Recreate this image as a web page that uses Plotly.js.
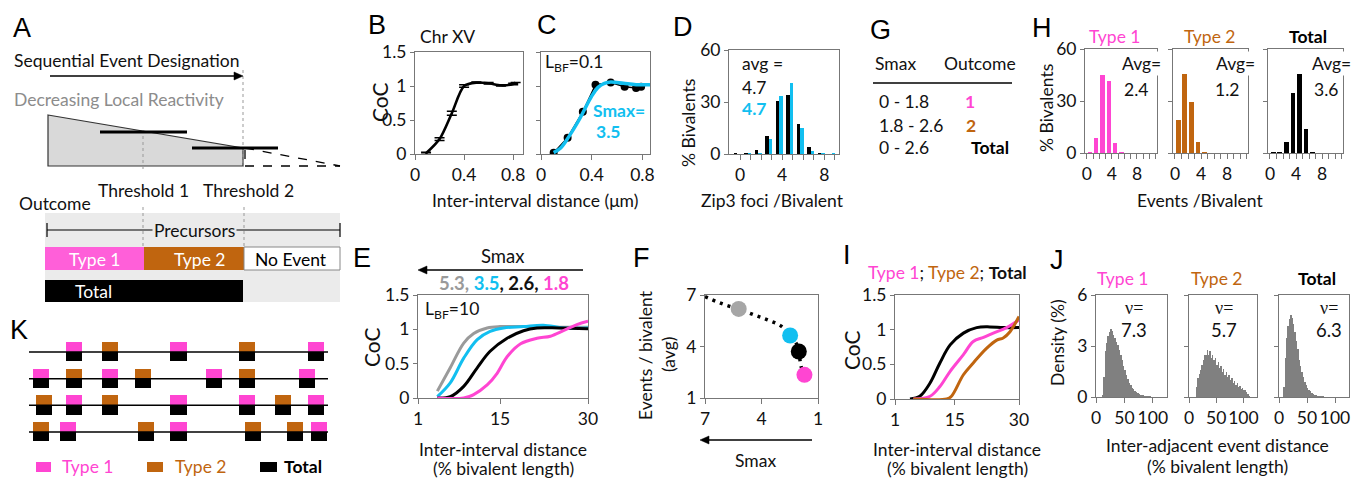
<!DOCTYPE html>
<html><head><meta charset="utf-8">
<script src="https://cdn.plot.ly/plotly-3.0.1.min.js"></script>
<style>html,body{margin:0;padding:0;background:#fff}#chart{width:1366px;height:478px}</style>
</head><body><div id="chart"></div><script>
// ---------- DATA ----------
// B: CoC, Chr XV
const B_X = [0.09, 0.2, 0.3, 0.4, 0.5, 0.6, 0.7, 0.8, 0.82];
const B_Y = [0.01, 0.22, 0.6, 1.0, 1.05, 1.04, 1.01, 1.03, 1.05];
const B_ERR = [0.015, 0.02, 0.03, 0.02, 0.01, 0.01, 0.01, 0.01, 0];
// C: data points and fitted curve (Smax = 3.5)
const C_X = [0.1, 0.21, 0.33, 0.43, 0.55, 0.66, 0.75, 0.79];
const C_Y = [0.02, 0.24, 0.62, 1.02, 1.05, 0.99, 0.97, 0.99];
const C_FIT_X = [0.1, 0.15, 0.2, 0.3, 0.4, 0.45, 0.5, 0.55, 0.65, 0.75, 0.86];
const C_FIT_Y = [0.02, 0.08, 0.2, 0.5, 0.85, 0.98, 1.04, 1.06, 1.04, 1.02, 1.02];
// D: Zip3 foci / bivalent
const D_N = [0, 1, 2, 3, 4, 5, 6, 7, 8, 9];
const D_OBS = [0.3, 0.3, 2.3, 10.4, 30.8, 34.0, 17.1, 4.2, 0.3, 0.2];
const D_SIM = [0.2, 0.4, 0.8, 8.5, 33.5, 41.0, 15.2, 1.7, 0.3, 0.4];
// H: events / bivalent
const H_N = [0, 1, 2, 3, 4, 5, 6, 7];
const H_TYPE1 = [0.5, 8.9, 44.8, 41.4, 5.7, 0.4, 0, 0];
const H_TYPE2 = [19.1, 45.8, 29.4, 6.3, 0.3, 0, 0, 0];
const H_TOTAL = [0.3, 0.5, 6.3, 34.9, 45.8, 13.8, 0.8, 0];
// E: CoC curves for different Smax
const E_GRAY_X = [4.3, 6.5, 8.8, 10.5, 12.8, 15, 20, 25, 30];
const E_GRAY_Y = [0.1, 0.44, 0.8, 0.94, 1.02, 1.04, 1.04, 1.03, 1.03];
const E_CYAN_X = [4.3, 6.5, 8.8, 11.1, 13.3, 15.6, 19, 22.4, 25.8, 30];
const E_CYAN_Y = [0.02, 0.22, 0.58, 0.85, 0.97, 1.02, 1.04, 1.06, 1.02, 1.02];
const E_BLACK_X = [4.3, 6.5, 8.8, 11.1, 13.3, 16.2, 19, 21.3, 25, 30];
const E_BLACK_Y = [0, 0.02, 0.17, 0.44, 0.68, 0.87, 0.98, 1.02, 1.02, 1.01];
const E_PINK_X = [4.3, 8.8, 10.5, 12.8, 14.5, 16.2, 18.5, 21.3, 23.6, 25.8, 28.1, 30];
const E_PINK_Y = [0, 0, 0.05, 0.19, 0.36, 0.6, 0.79, 0.87, 0.9, 0.98, 1.07, 1.12];
// F: events per bivalent vs Smax
const F_LINE_X = [7, 5.92, 5.21, 4.4, 3.68, 2.97, 2.48, 2.16, 2.02, 1.9, 1.72];
const F_LINE_Y = [6.9, 6.42, 6.19, 5.84, 5.55, 5.2, 4.64, 4.19, 3.71, 2.84, 2.35];
const F_PTS_X = [5.21, 2.48, 2.02, 1.72];
const F_PTS_Y = [6.19, 4.64, 3.71, 2.35];
// I: CoC for Type 1 / Type 2 / Total
const I_BLACK_X = [4.5, 6.8, 9.2, 11.5, 13.9, 17.0, 20.1, 23.2, 26.3, 30];
const I_BLACK_Y = [0, 0.04, 0.23, 0.52, 0.78, 0.95, 1.03, 1.04, 1.03, 1.03];
const I_PINK_X = [5.3, 9.2, 11.5, 13.9, 17.0, 19.3, 21.7, 24, 27.1, 30];
const I_PINK_Y = [0, 0.04, 0.18, 0.40, 0.64, 0.83, 0.89, 0.95, 1.03, 1.14];
const I_BROWN_X = [5.3, 13.1, 14.2, 17, 19.3, 22.4, 24.8, 26.3, 27.9, 30];
const I_BROWN_Y = [0, 0, 0.04, 0.35, 0.52, 0.73, 0.85, 0.88, 0.97, 1.19];
// J: inter-adjacent event distance densities, bins of 2.5 starting at 0
const J_BIN = 2.5;
const J_TYPE1 = [0,0,0,0,0.1,1.2,2.7,3.2,3.6,3.85,4.0,3.9,3.65,3.5,3.25,3.05,2.75,2.5,2.15,1.85,1.6,1.3,1.05,0.85,0.7,0.55,0.48,0.38,0.3,0.24,0.17,0.14,0.11,0.1,0.07,0.06,0.05,0.04,0.03,0.02,0.01];
const J_TYPE2 = [0,0,0,0,0,0.6,1.1,1.35,1.6,1.9,2.15,2.5,2.45,2.75,2.5,2.7,2.3,2.5,2.15,2.3,1.9,2.05,1.7,1.85,1.5,1.65,1.3,1.45,1.15,1.3,1.0,1.1,0.85,0.95,0.7,0.8,0.6,0.65,0.5,0.55,0.4,0.4,0.3,0.15,0.05];
const J_TOTAL = [0,0,0,0.6,2.3,3.5,4.2,4.6,4.8,4.65,4.3,3.85,3.3,2.8,2.2,1.8,1.45,1.15,0.9,0.72,0.55,0.42,0.33,0.25,0.2,0.14,0.1,0.08,0.06,0.05,0.04,0.03,0.02];
// K: event positions (% of bivalent length), row and type
const K_ROW  = [1,1,1,1,1, 2,2,2,2,2,2,2, 3,3,3,3,3,3,3, 4,4,4,4,4,4,4];
const K_POS  = [15,27,50,73,96, 4,15,27,38,62,73,93, 5,15,27,50,73,85,96, 4,13,39,50,75,89,97];
const K_TYPE = [1,2,1,2,1, 1,2,1,2,1,2,1, 2,1,2,1,1,2,1, 2,1,2,1,2,2,1];
const K_ROWS = [1, 2, 3, 4];
// G table
const G_SMAX = ['0 - 1.8', '1.8 - 2.6', '0 - 2.6'];
const G_OUTCOME = ['1', '2', 'Total'];
// tick values
const H_TICKVALS = [0,1,2,3,4,5,6,7,8,9,10,11];
const D_TICKVALS = [0,1,2,3,4,5,6,7,8,9];

// ---------- STYLE ----------
const W = 1366, H = 478;
const FX = x => x / W, FY = y => 1 - y / H;
const FONT = 'Lato, "Open Sans", sans-serif';
const LET = '"Liberation Sans", Arial, sans-serif';
const FS = 17.5;
const PINK = '#ff45d2', BROWN = '#c0650f', CYAN = '#12bff0', GRAY = '#9a9a9a', HGRAY = '#808080';
const LC = '#777';

function xa(x0, x1, o) {
  return Object.assign({domain: [x0 / W, x1 / W], showline: true, linecolor: LC, linewidth: 1, mirror: true,
    ticks: 'outside', ticklen: 5, tickcolor: LC, tickangle: 0, tickfont: {family: FONT, size: FS, color: '#111'},
    zeroline: false, showgrid: false, fixedrange: true}, o);
}
function ya(y0, y1, o) {
  return Object.assign({domain: [1 - y1 / H, 1 - y0 / H], showline: true, linecolor: LC, linewidth: 1, mirror: true,
    ticks: 'outside', ticklen: 4, tickcolor: LC, tickangle: 0, tickfont: {family: FONT, size: FS, color: '#111'},
    zeroline: false, showgrid: false, fixedrange: true}, o);
}
function T(text, x, y, o) {
  o = o || {};
  const a = {text: text, x: FX(x), y: FY(y), xref: 'paper', yref: 'paper', showarrow: false,
    xanchor: o.xa || 'center', yanchor: 'middle',
    font: {family: o.family || FONT, size: o.size || FS, color: o.color || '#111'}, textangle: o.angle || 0};
  if (o.bg) { a.bgcolor = o.bg; a.borderpad = 1; }
  return a;
}
function L(x0, y0, x1, y1, o) {
  o = o || {};
  return {type: 'line', xref: 'paper', yref: 'paper', x0: FX(x0), y0: FY(y0), x1: FX(x1), y1: FY(y1),
    line: {color: o.color || '#000', width: o.width || 1, dash: o.dash || 'solid'}};
}
function R(x0, y0, x1, y1, fill, o) {
  o = o || {};
  return {type: 'rect', xref: 'paper', yref: 'paper', x0: FX(x0), y0: FY(y0), x1: FX(x1), y1: FY(y1),
    fillcolor: fill, line: {color: o.line || 'rgba(0,0,0,0)', width: o.lw || 0}, layer: o.layer || 'below'};
}
// horizontal arrow: shaft + filled triangular head at (xh, y); dir = +1 points right, -1 left
function ARROW(xt, xh, y, dir) {
  const hl = 9, hw = 4;
  const xb = xh - dir * hl;
  return [
    L(xt, y, xb, y, {width: 1.5}),
    {type: 'path', xref: 'paper', yref: 'paper', fillcolor: '#000', line: {color: '#000', width: 0.5},
     path: 'M ' + FX(xh) + ',' + FY(y) + ' L ' + FX(xb) + ',' + FY(y - hw) + ' L ' + FX(xb) + ',' + FY(y + hw) + ' Z'}
  ];
}
const bold = s => '<b>' + s + '</b>';

// ---------- TRACES ----------
const traces = [];
// B
traces.push({x: B_X, y: B_Y, type: 'scatter', mode: 'lines', xaxis: 'x', yaxis: 'y',
  line: {color: '#000', width: 2.6, shape: 'spline', smoothing: 0.8},
  error_y: {type: 'data', array: B_ERR, width: 5, thickness: 1.5, color: '#000'}});
// C
traces.push({x: C_X, y: C_Y, type: 'scatter', mode: 'lines+markers', xaxis: 'x2', yaxis: 'y2',
  line: {color: '#000', width: 1.5}, marker: {color: '#000', size: 8}});
traces.push({x: C_FIT_X, y: C_FIT_Y, type: 'scatter', mode: 'lines', xaxis: 'x2', yaxis: 'y2',
  line: {color: CYAN, width: 3.5, shape: 'spline', smoothing: 1}});
// D
traces.push({x: D_N, y: D_OBS, type: 'bar', xaxis: 'x3', yaxis: 'y3', offset: -0.6, width: 0.33, marker: {color: '#000'}});
traces.push({x: D_N, y: D_SIM, type: 'bar', xaxis: 'x3', yaxis: 'y3', offset: -0.27, width: 0.33, marker: {color: CYAN}});
// H
[[H_TYPE1, PINK, '4'], [H_TYPE2, BROWN, '5'], [H_TOTAL, '#000', '6']].forEach(([v, c, k]) => {
  traces.push({x: H_N, y: v, type: 'bar', xaxis: 'x' + k, yaxis: 'y' + k, offset: 0.15, width: 0.7, marker: {color: c}});
});
// E
[[E_GRAY_X, E_GRAY_Y, GRAY], [E_CYAN_X, E_CYAN_Y, CYAN], [E_BLACK_X, E_BLACK_Y, '#000'], [E_PINK_X, E_PINK_Y, PINK]].forEach(([x, y, c]) => {
  traces.push({x: x, y: y, type: 'scatter', mode: 'lines', xaxis: 'x7', yaxis: 'y7', cliponaxis: false,
    line: {color: c, width: 3, shape: 'spline', smoothing: 1}});
});
// F
traces.push({x: F_LINE_X, y: F_LINE_Y, type: 'scatter', mode: 'lines', xaxis: 'x8', yaxis: 'y8',
  line: {color: '#000', width: 3.5, dash: '3px,5px', shape: 'spline'}});
traces.push({x: F_PTS_X, y: F_PTS_Y, type: 'scatter', mode: 'markers', xaxis: 'x8', yaxis: 'y8',
  marker: {color: ['#a6a6a6', CYAN, '#000', PINK], size: 16}});
// I
[[I_BLACK_X, I_BLACK_Y, '#000'], [I_PINK_X, I_PINK_Y, PINK], [I_BROWN_X, I_BROWN_Y, BROWN]].forEach(([x, y, c]) => {
  traces.push({x: x, y: y, type: 'scatter', mode: 'lines', xaxis: 'x9', yaxis: 'y9', cliponaxis: false,
    line: {color: c, width: 3, shape: 'spline', smoothing: 1}});
});
// J
[[J_TYPE1, '10'], [J_TYPE2, '11'], [J_TOTAL, '12']].forEach(([v, k]) => {
  traces.push({x: v.map((_, i) => (i + 0.5) * J_BIN), y: v, type: 'bar', xaxis: 'x' + k, yaxis: 'y' + k,
    width: J_BIN, marker: {color: HGRAY, line: {width: 0}}});
});
// K
const kx = [], ky = [];
K_ROWS.forEach(r => { kx.push(0, 100, null); ky.push(r, r, null); });
traces.push({x: kx, y: ky, type: 'scatter', mode: 'lines', xaxis: 'x13', yaxis: 'y13', line: {color: '#000', width: 1.5}});
[[1, PINK], [2, BROWN]].forEach(([t, c]) => {
  const idx = K_TYPE.map((v, i) => v === t ? i : -1).filter(i => i >= 0);
  traces.push({x: idx.map(i => K_POS[i]), base: idx.map(i => K_ROW[i]), y: idx.map(() => -0.37), type: 'bar',
    xaxis: 'x13', yaxis: 'y13', width: 5.4, marker: {color: c, line: {width: 0}}});
});
traces.push({x: K_POS, base: K_ROW, y: K_POS.map(() => 0.35), type: 'bar', xaxis: 'x13', yaxis: 'y13',
  width: 5.4, marker: {color: '#000', line: {width: 0}}});

// ---------- LAYOUT ----------
const noLab = {showticklabels: false};
const hText = H_TICKVALS.map(v => v % 4 === 0 ? String(v) : '');
const layout = {
  width: W, height: H, margin: {l: 0, r: 0, t: 0, b: 0}, showlegend: false,
  paper_bgcolor: '#fff', plot_bgcolor: 'rgba(0,0,0,0)', barmode: 'overlay', bargap: 0,
  font: {family: FONT, color: '#111'},
  // B
  xaxis: xa(415, 523, {anchor: 'y', range: [0, 0.88], tickvals: [0, 0.4, 0.8], ticktext: ['0', '0.4', '0.8']}),
  yaxis: ya(52, 154, {anchor: 'x', range: [0, 1.5], tickvals: [0, 0.5, 1, 1.5], ticktext: ['0', '0.5', '1', '1.5']}),
  // C
  xaxis2: xa(541, 650, {anchor: 'y2', range: [0, 0.86], tickvals: [0, 0.4, 0.8], ticktext: ['0', '0.4', '0.8']}),
  yaxis2: ya(52, 154, Object.assign({anchor: 'x2', range: [0, 1.5], tickvals: [0, 0.5, 1, 1.5]}, noLab)),
  // D
  xaxis3: xa(729, 839, {anchor: 'y3', range: [-1.05, 9.4], tickvals: D_TICKVALS, ticktext: D_TICKVALS.map(v => v % 4 === 0 ? String(v) : '')}),
  yaxis3: ya(50, 154, {anchor: 'x3', range: [0, 60], tickvals: [0, 30, 60]}),
  // H
  xaxis4: xa(1085, 1157, {anchor: 'y4', range: [-0.3, 11.2], tickvals: H_TICKVALS, ticktext: hText}),
  yaxis4: ya(49, 153, {anchor: 'x4', range: [0, 60], tickvals: [0, 30, 60]}),
  xaxis5: xa(1173, 1248, {anchor: 'y5', range: [-0.3, 11.2], tickvals: H_TICKVALS, ticktext: hText}),
  yaxis5: ya(49, 153, Object.assign({anchor: 'x5', range: [0, 60], tickvals: [0, 30, 60]}, noLab)),
  xaxis6: xa(1268, 1343, {anchor: 'y6', range: [-0.3, 11.2], tickvals: H_TICKVALS, ticktext: hText}),
  yaxis6: ya(49, 153, Object.assign({anchor: 'x6', range: [0, 60], tickvals: [0, 30, 60]}, noLab)),
  // E
  xaxis7: xa(418, 588, {anchor: 'y7', range: [1, 30], tickvals: [1, 15, 30]}),
  yaxis7: ya(295, 398, {anchor: 'x7', range: [0, 1.5], tickvals: [0, 0.5, 1, 1.5], ticktext: ['0', '0.5', '1', '1.5']}),
  // F
  xaxis8: xa(705, 818, {anchor: 'y8', range: [7, 1], tickvals: [7, 4, 1]}),
  yaxis8: ya(295, 398, {anchor: 'x8', range: [1, 7], tickvals: [1, 4, 7]}),
  // I
  xaxis9: xa(895, 1019, {anchor: 'y9', range: [1, 30], tickvals: [1, 15, 30]}),
  yaxis9: ya(295, 399, {anchor: 'x9', range: [0, 1.5], tickvals: [0, 0.5, 1, 1.5], ticktext: ['0', '0.5', '1', '1.5']}),
  // J
  xaxis10: xa(1096, 1167, {anchor: 'y10', range: [0, 125], tickvals: [0, 50, 100]}),
  yaxis10: ya(295, 397, {anchor: 'x10', range: [0, 6], tickvals: [0, 3, 6]}),
  xaxis11: xa(1189, 1257, {anchor: 'y11', range: [0, 125], tickvals: [0, 50, 100]}),
  yaxis11: ya(295, 397, Object.assign({anchor: 'x11', range: [0, 6], tickvals: [0, 3, 6]}, noLab)),
  xaxis12: xa(1279, 1349, {anchor: 'y12', range: [0, 125], tickvals: [0, 50, 100]}),
  yaxis12: ya(295, 397, Object.assign({anchor: 'x12', range: [0, 6], tickvals: [0, 3, 6]}, noLab)),
  // K
  xaxis13: {domain: [FX(29), FX(328)], range: [0, 100], visible: false, anchor: 'y13', fixedrange: true},
  yaxis13: {domain: [FY(448), FY(336)], range: [4.6, 0.4], visible: false, anchor: 'x13', fixedrange: true}
};

// ---------- SHAPES (schematic A, G, K legend, arrows) ----------
layout.shapes = [
  // A
  {type: 'path', xref: 'paper', yref: 'paper',
   path: 'M ' + FX(48) + ',' + FY(115) + ' L ' + FX(243) + ',' + FY(148) + ' L ' + FX(243) + ',' + FY(166) + ' L ' + FX(48) + ',' + FY(166) + ' Z',
   fillcolor: '#d9d9d9', line: {color: '#333', width: 1.2}, layer: 'below'},
  L(243, 70, 243, 167, {color: '#999', dash: 'dot'}),
  L(143, 130, 143, 170, {color: '#999', dash: 'dot'}),
  L(245, 148, 340, 166, {dash: 'dash', width: 1.3}),
  L(245, 166, 340, 166, {dash: 'dash', width: 1.3}),
  L(245, 150, 245, 166, {dash: 'dash', width: 1.3}),
  L(100, 132, 187, 132, {width: 3}),
  L(192, 148, 278, 148, {width: 3}),
  R(45, 213, 340, 302, '#ebebeb'),
  L(143, 207, 143, 247, {color: '#999', dash: 'dot'}),
  L(244, 207, 244, 247, {color: '#999', dash: 'dot'}),
  L(47, 230, 340, 230, {width: 1.2}),
  L(47, 223, 47, 237, {width: 1.2}),
  L(340, 223, 340, 237, {width: 1.2}),
  R(45, 247, 144, 270, '#ff5fd9', {layer: 'above'}),
  R(144, 247, 244, 270, BROWN, {layer: 'above'}),
  R(244, 247, 340, 270, '#fff', {layer: 'above', line: '#888', lw: 1}),
  R(45, 280, 243, 302, '#000', {layer: 'above'}),
  // G
  L(873, 83, 1012, 83, {width: 1.5}),
  // K legend
  R(36, 462, 51, 472, PINK, {layer: 'above'}),
  R(147, 462, 163, 472, BROWN, {layer: 'above'}),
  R(260, 462, 277, 472, '#000', {layer: 'above'})
].concat(ARROW(50, 243, 76, 1), ARROW(583, 418, 270, -1), ARROW(812, 700, 440, -1));

// ---------- ANNOTATIONS ----------
const A = [];
[['A', 11, 28], ['B', 366, 25], ['C', 535, 25], ['D', 671, 27], ['G', 868, 30], ['H', 1030, 28],
 ['E', 351, 258], ['F', 631, 258], ['I', 841, 255], ['J', 1048, 260], ['K', 8, 330]].forEach(([t, x, y]) =>
  A.push(T(t, x, y, {xa: 'left', family: LET, size: 27, color: '#000'})));
// A texts
A.push(T('Sequential Event Designation', 12, 60, {xa: 'left'}));
A.push(T('Decreasing Local Reactivity', 12, 99, {xa: 'left', color: '#8c8c8c'}));
A.push(T('Threshold 1', 143, 191));
A.push(T('Threshold 2', 248, 191));
A.push(T('Outcome', 17, 203, {xa: 'left'}));
A.push(T('Precursors', 194, 230, {bg: '#ebebeb'}));
A.push(T('Type 1', 95, 259, {color: '#fff'}));
A.push(T('Type 2', 200, 259, {color: '#fff'}));
A.push(T('No Event', 291, 259, {color: '#000'}));
A.push(T('Total', 93, 291, {color: '#fff'}));
// K legend texts
A.push(T('Type 1', 60, 466, {xa: 'left', color: PINK}));
A.push(T('Type 2', 173, 466, {xa: 'left', color: BROWN}));
A.push(T(bold('Total'), 282, 466, {xa: 'left', color: '#000'}));
// B / C
A.push(T('Chr XV', 418, 37, {xa: 'left'}));
A.push(T('CoC', 380, 102, {angle: -90, size: 21}));
A.push(T('Inter-interval distance (μm)', 535, 200));
A.push(T('L<sub>BF</sub>=0.1', 543, 63, {xa: 'left'}));
A.push(T(bold('Smax='), 591, 110, {xa: 'left', color: CYAN}));
A.push(T(bold('3.5'), 594, 132, {xa: 'left', color: CYAN}));
// D
A.push(T('avg =', 740, 63, {xa: 'left'}));
A.push(T('4.7', 740, 87, {xa: 'left'}));
A.push(T(bold('4.7'), 740, 108, {xa: 'left', color: CYAN}));
A.push(T('% Bivalents', 689, 123, {angle: -90}));
A.push(T('Zip3 foci /Bivalent', 772, 200));
// G
A.push(T('Smax', 873, 63, {xa: 'left'}));
A.push(T('Outcome', 942, 63, {xa: 'left'}));
const gy = [102, 125, 147], gc = [PINK, BROWN, '#000'], gx = [970, 971, 990];
G_SMAX.forEach((s, i) => {
  A.push(T(s, 877, gy[i], {xa: 'left'}));
  A.push(T(bold(G_OUTCOME[i]), gx[i], gy[i], {color: gc[i]}));
});
// H
A.push(T('Type 1', 1115, 37, {color: PINK}));
A.push(T('Type 2', 1210, 37, {color: BROWN}));
A.push(T(bold('Total'), 1308, 37, {color: '#000'}));
[['2.4', 1120, 1122], ['1.2', 1214, 1213], ['3.6', 1310, 1312]].forEach(([v, xa1, xa2]) => {
  A.push(T('Avg=', xa1, 63, {xa: 'left', bg: '#fff'}));
  A.push(T(v, xa2, 89, {xa: 'left'}));
});
A.push(T('% Bivalents', 1046, 108, {angle: -90}));
A.push(T('Events /Bivalent', 1200, 200));
// E
A.push(T('Smax', 502, 256, {size: 18.5}));
A.push(T('<b><span style="color:' + GRAY + '">5.3,</span> <span style="color:' + CYAN + '">3.5</span>, 2.6, <span style="color:' + PINK + '">1.8</span></b>', 504, 283, {size: 18.5}));
A.push(T('L<sub>BF</sub>=10', 423, 310, {xa: 'left'}));
A.push(T('CoC', 371, 347, {angle: -90, size: 21}));
A.push(T('Inter-interval distance', 503, 449));
A.push(T('(% bivalent length)', 503, 468));
// F
A.push(T('Events / bivalent', 645, 355, {angle: -90}));
A.push(T('(avg)', 668, 355, {angle: -90}));
A.push(T('Smax', 755, 460));
// I
A.push(T('<span style="color:' + PINK + '">Type 1</span>; <span style="color:' + BROWN + '">Type 2</span>; <b>Total</b>', 866, 272, {xa: 'left'}));
A.push(T('CoC', 851, 350, {angle: -90, size: 21}));
A.push(T('Inter-interval distance', 957, 449));
A.push(T('(% bivalent length)', 957, 468));
// J
A.push(T('Type 1', 1123, 278, {color: PINK}));
A.push(T('Type 2', 1217, 278, {color: BROWN}));
A.push(T(bold('Total'), 1317, 278, {color: '#000'}));
[['7.3', 1134], ['5.7', 1224], ['6.3', 1329]].forEach(([v, x]) => {
  A.push(T('ν=', x, 308, {family: '"Liberation Serif", serif', size: 18}));
  A.push(T(v, x, 330, {size: 18.5}));
});
A.push(T('Density (%)', 1057, 343, {angle: -90}));
A.push(T('Inter-adjacent event distance', 1217, 445));
A.push(T('(% bivalent length)', 1217, 466));
layout.annotations = A;

Plotly.newPlot('chart', traces, layout, {staticPlot: true, displayModeBar: false});
</script></body></html>
